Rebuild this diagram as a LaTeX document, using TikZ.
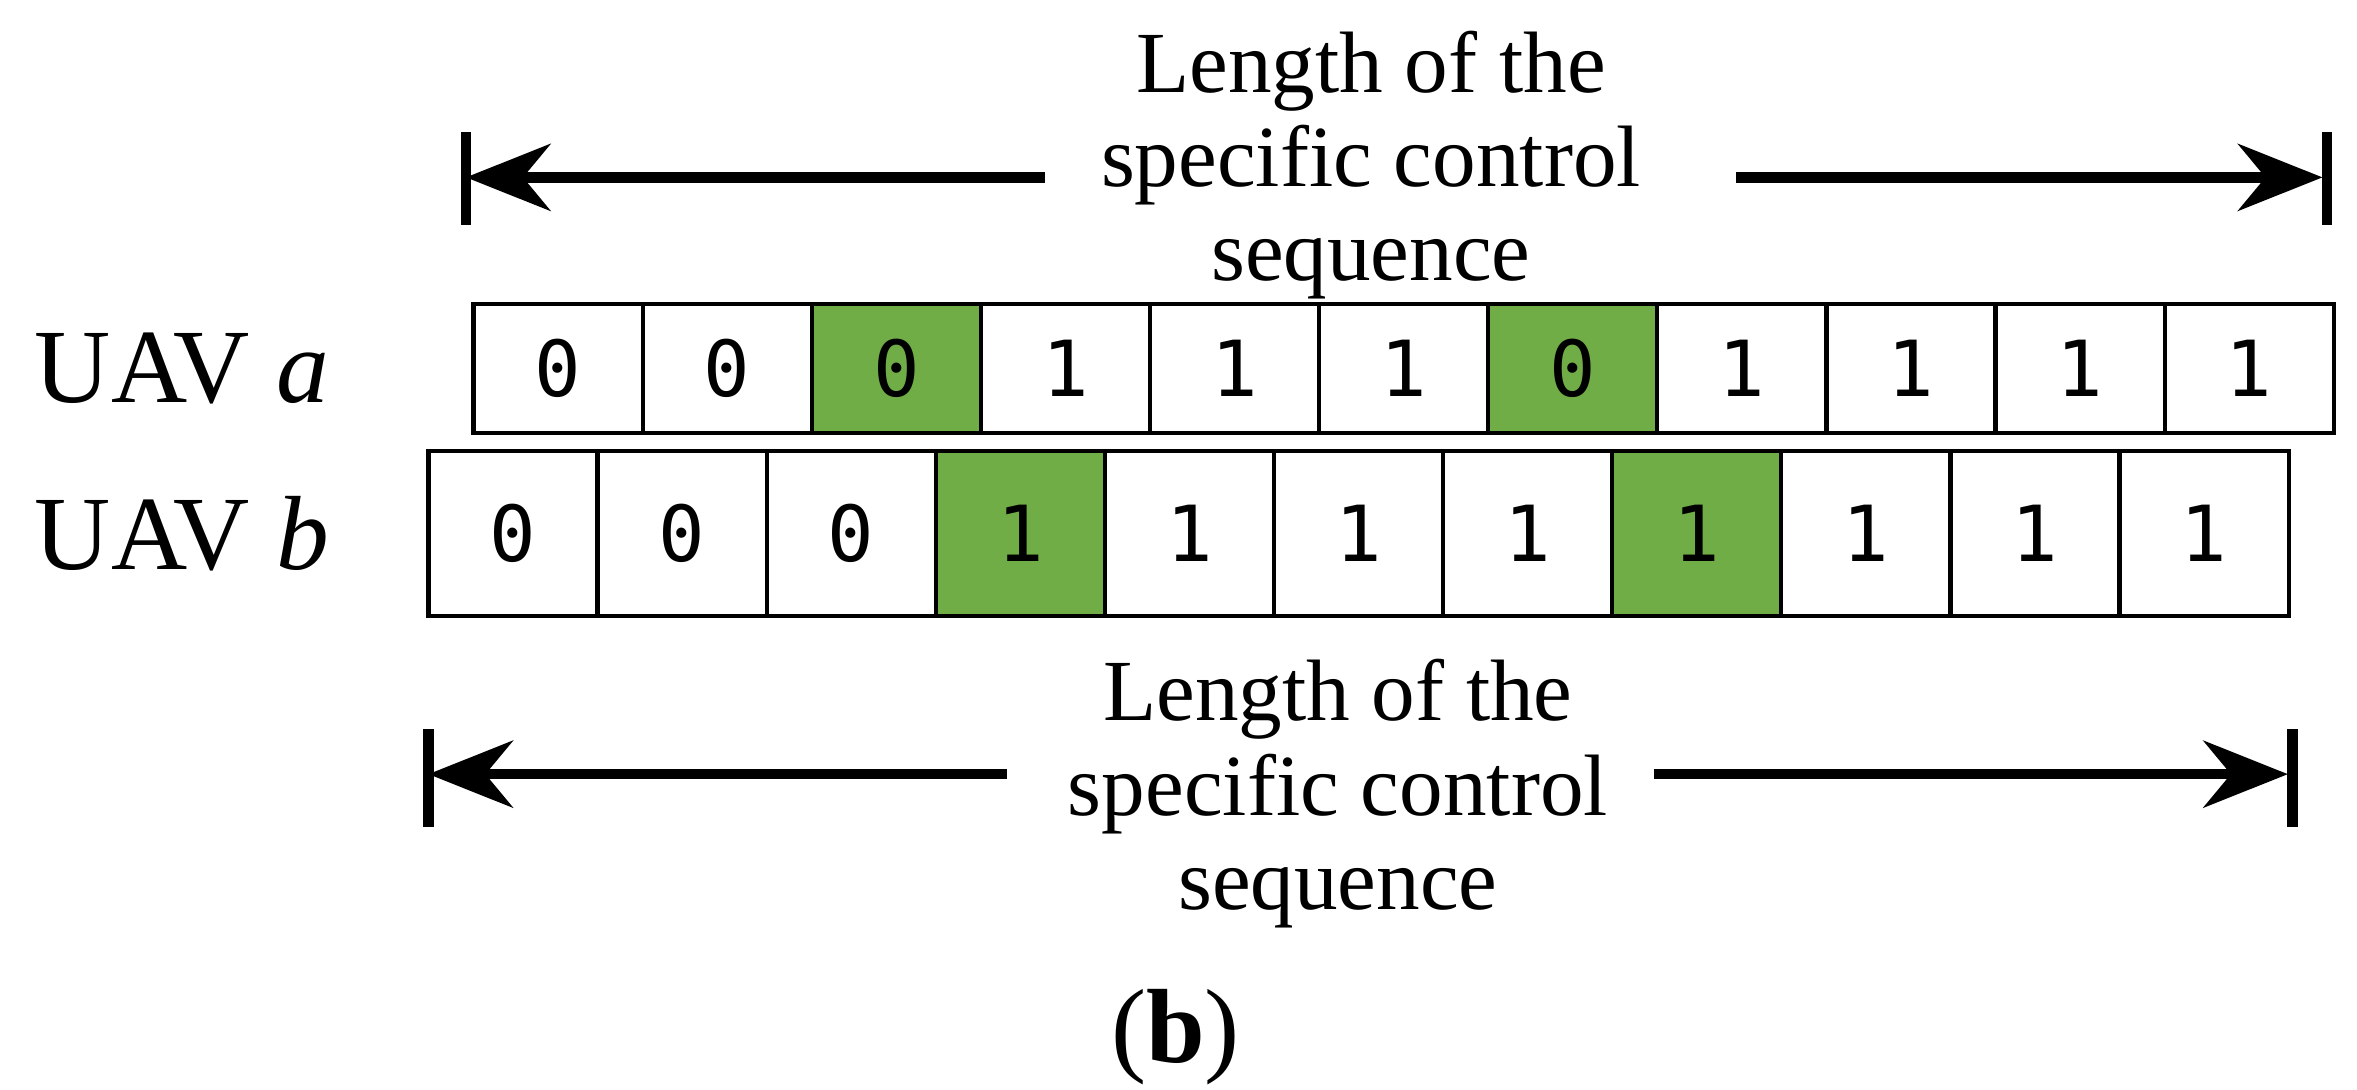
\documentclass[tikz,border=0pt]{standalone}
\usepackage{fontspec}
\setmainfont{Liberation Serif}
\newfontfamily\digitfont{DejaVu Sans Mono}
\usetikzlibrary{arrows.meta}
\definecolor{cg}{HTML}{70AD47}
\begin{document}
\begin{tikzpicture}[x=0.01503cm,y=-0.01503cm,
 cell/.style={draw,line width=1.2pt,minimum width=112.5*0.01503cm,minimum height=#1,inner sep=0,font=\digitfont\fontsize{22}{26}\selectfont},
 lbl/.style={font=\fontsize{30}{36}\selectfont},
 dim/.style={font=\fontsize{24.8}{26.8}\selectfont,align=center},
 arr/.style={line width=3pt,-{Stealth[length=24pt,width=19pt]}},
 bar/.style={line width=3pt}]
\useasboundingbox (0,0) rectangle (1568,724.5);
% row a
\foreach \v [count=\i from 0] in {0,0,0,1,1,1,0,1,1,1,1}{
  \pgfmathsetmacro\xx{315+112.5*\i+56.25}
  \ifnum\i=2 \node[cell=1.29cm,fill=cg] (a\i) at (\xx,245) {\v};
  \else\ifnum\i=6 \node[cell=1.29cm,fill=cg] (a\i) at (\xx,245) {\v};
  \else \node[cell=1.29cm] (a\i) at (\xx,245) {\v};\fi\fi}
% row b
\foreach \v [count=\i from 0] in {0,0,0,1,1,1,1,1,1,1,1}{
  \pgfmathsetmacro\xx{285+112.5*\i+56.25}
  \ifnum\i=3 \node[cell=1.65cm,fill=cg] (b\i) at (\xx,355) {\v};
  \else\ifnum\i=7 \node[cell=1.65cm,fill=cg] (b\i) at (\xx,355) {\v};
  \else \node[cell=1.65cm] (b\i) at (\xx,355) {\v};\fi\fi}
\node[lbl,anchor=west] (la) at (15,245) {UAV \textit{a}};
\node[lbl,anchor=west] (lb) at (15,355) {UAV \textit{b}};
% top dimension
\node[dim] (t1) at (912,110) {Length of the\\specific control\\sequence};
\coordinate (tl) at (310,118); \coordinate (tr) at (1545,118);
\draw[bar] (310,88) -- (310,150); \draw[bar] (1548,88) -- (1548,150);
\draw[arr] (695,118) -- (tl);
\draw[arr] (1155,118) -- (tr);
% bottom dimension
\node[dim] (t2) at (890,528) {Length of the\\specific control\\sequence};
\coordinate (bl) at (285,515); \coordinate (br) at (1522,515);
\draw[bar] (285,485) -- (285,550); \draw[bar] (1525,485) -- (1525,550);
\draw[arr] (670,515) -- (bl);
\draw[arr] (1100,515) -- (br);
\node[font=\fontsize{30}{36}\selectfont] (cap) at (782,690) {(\textbf{b})};
\end{tikzpicture}
\end{document}
